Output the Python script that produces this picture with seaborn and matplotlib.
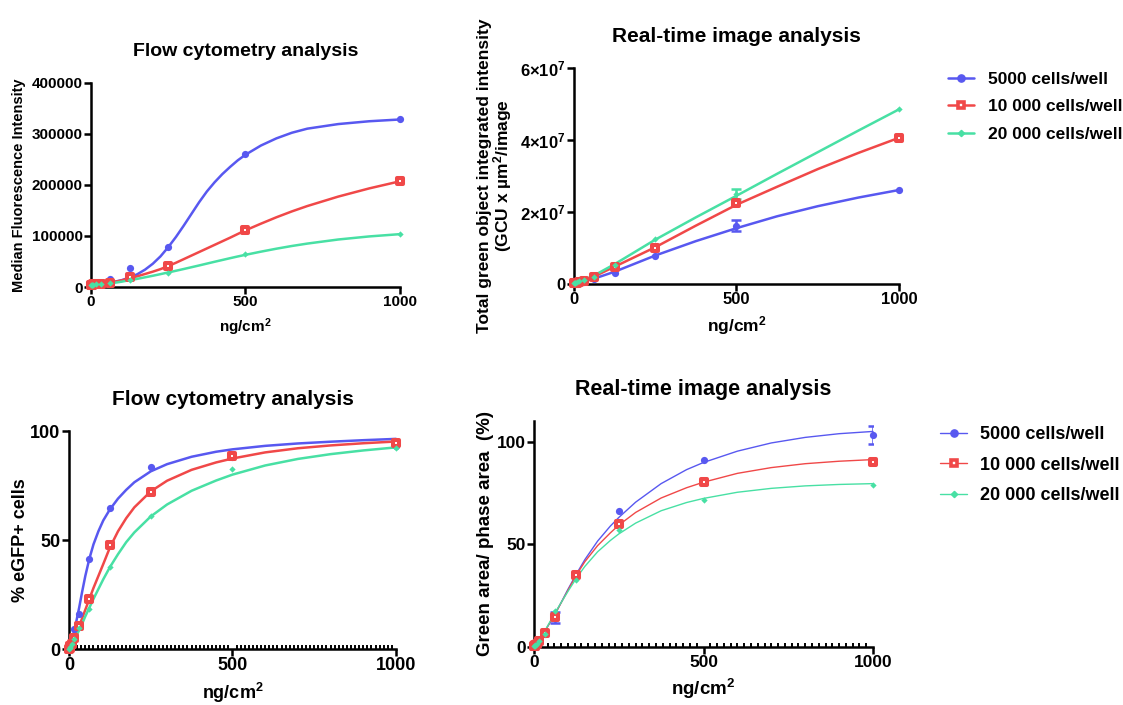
import matplotlib
matplotlib.use("Agg")
import matplotlib.pyplot as plt
import seaborn as sns
import pandas as pd
from matplotlib.lines import Line2D
from matplotlib.ticker import MultipleLocator

# ---- data ----
groups = ["5000 cells/well", "10 000 cells/well", "20 000 cells/well"]
doses = [0, 1.95, 3.9, 7.8, 15.6, 31.25, 62.5, 125, 250, 500, 1000]

# flow cytometry, median fluorescence intensity
mfi_5000 = [4000, 4100, 4300, 4600, 5000, 6000, 15500, 38000, 79000, 260000, 328000]
mfi_10000 = [4500, 4600, 4800, 5000, 5500, 6500, 7500, 19500, 41000, 111000, 208000]
mfi_20000 = [4000, 4100, 4200, 4500, 5000, 5800, 8000, 14000, 27500, 64000, 103500]
mfi_fit_x = [0, 31.25, 62.5, 100, 125, 150, 175, 200, 225, 250, 275, 300, 325, 350, 375, 400,
             425, 450, 475, 500, 550, 600, 650, 700, 800, 900, 1000]
mfi_fit_5000 = [4000, 5500, 8500, 13500, 18500, 25000, 34000, 45500, 60000, 78000, 98000, 120000,
                143000, 166000, 187000, 205000, 221000, 235000, 248000, 259000, 277000, 291000,
                302000, 310000, 319000, 324500, 328000]
mfi_fit_10000 = [4500, 5500, 8000, 13000, 17000, 21000, 25500, 30000, 35000, 41000, 47500, 54500,
                 61500, 68500, 75500, 82500, 89500, 96500, 103800, 111000, 124000, 136500, 148000,
                 158500, 177000, 193000, 207000]
mfi_fit_20000 = [4000, 5000, 7000, 10500, 13500, 16000, 19000, 22000, 25200, 28500, 31800, 35200,
                 38700, 42200, 45800, 49400, 52900, 56400, 59800, 63000, 69200, 75000, 80300,
                 85000, 93000, 99000, 103500]

# real-time image, total green integrated intensity
tgi_5000 = [0.1e6, 0.2e6, 0.3e6, 0.35e6, 0.45e6, 0.6e6, 1.3e6, 3.0e6, 7.9e6, 16.2e6, 26.1e6]
tgi_10000 = [0.2e6, 0.25e6, 0.3e6, 0.4e6, 0.6e6, 0.9e6, 1.9e6, 4.8e6, 10.1e6, 22.4e6, 40.6e6]
tgi_20000 = [0.2e6, 0.3e6, 0.35e6, 0.5e6, 0.7e6, 1.0e6, 2.0e6, 5.3e6, 12.5e6, 25.0e6, 48.5e6]
tgi_err_5000 = [0, 0, 0, 0, 0, 0, 0, 0, 0, 1.5e6, 0]
tgi_err_20000 = [0, 0, 0, 0, 0, 0, 0, 0, 0, 1.5e6, 0]
tgi_fit_x = [0, 31.25, 62.5, 125, 250, 375, 500, 625, 750, 875, 1000]
tgi_fit_5000 = [0.2e6, 0.8e6, 1.5e6, 3.4e6, 7.9e6, 11.9e6, 15.5e6, 18.8e6, 21.6e6, 24.0e6, 26.1e6]
tgi_fit_10000 = [0.2e6, 1.0e6, 2.1e6, 4.8e6, 10.2e6, 16.2e6, 22.0e6, 27.0e6, 31.9e6, 36.4e6, 40.6e6]
tgi_fit_20000 = [0.2e6, 1.1e6, 2.4e6, 5.5e6, 12.3e6, 18.5e6, 24.5e6, 30.6e6, 36.6e6, 42.6e6, 48.5e6]

# flow cytometry, % eGFP+ cells
pct_5000 = [0.3, 1.0, 2.5, 5.0, 9.3, 16.2, 41.5, 64.8, 83.6, 88.2, 93.1]
pct_10000 = [0.1, 0.5, 1.2, 2.5, 5.2, 10.4, 22.8, 47.6, 72.1, 88.5, 94.6]
pct_20000 = [0.1, 0.4, 1.0, 2.2, 4.5, 9.5, 18.2, 37.7, 61.0, 82.8, 92.3]
pct_fit_x = [0, 7.8, 15.6, 23, 31.25, 40, 50, 62.5, 75, 90, 105, 125, 150, 175, 200, 250, 300,
             375, 450, 500, 600, 700, 800, 900, 1000]
pct_fit_5000 = [0, 3, 8, 13, 19, 26, 33.5, 41.5, 48, 54, 59, 64, 69, 73, 76.5, 81.5, 84.8, 88.2,
                90.5, 91.6, 93.2, 94.3, 95.1, 95.8, 96.4]
pct_fit_10000 = [0, 1.5, 4.5, 7.5, 10.5, 14, 18, 23, 28, 33.5, 39, 46.5, 54, 60, 65, 72.3, 77.2,
                 82.2, 85.6, 87.4, 90.2, 92.1, 93.4, 94.4, 95.2]
pct_fit_20000 = [0, 1.2, 3.5, 6, 8.8, 11.5, 15, 19, 23, 27.5, 32, 37.5, 43.5, 49, 53.5, 60.8, 66.3,
                 72.6, 77.3, 80, 84.2, 87.2, 89.4, 91.1, 92.5]

# real-time image, green area / phase area
area_5000 = [0.3, 0.6, 1.0, 1.6, 2.9, 6.2, 14.3, 35.4, 66.2, 91.1, 103.1]
area_10000 = [0.3, 0.5, 0.9, 1.5, 2.9, 6.7, 14.6, 35.1, 59.7, 80.2, 90.1]
area_20000 = [0.3, 0.5, 0.9, 1.6, 3.0, 6.5, 17.6, 32.8, 56.9, 71.7, 79.0]
area_err_5000 = [0, 0, 0, 0, 0, 0, 2.5, 0, 0, 0, 4.5]
area_fit_x = [0, 15.6, 31.25, 62.5, 100, 125, 150, 187.5, 225, 250, 300, 375, 450, 500, 600, 700,
              800, 900, 1000]
area_fit_5000 = [0, 3.5, 7.5, 16, 28, 35.5, 42.5, 51.5, 58.8, 63, 70.5, 79.5, 86.3, 89.8, 95.3,
                 99.3, 102, 103.8, 104.9]
area_fit_10000 = [0, 3.5, 7.5, 16.2, 27.5, 35, 41.5, 49.3, 55.5, 59.3, 65.5, 72.5, 77.5, 80.2,
                  84.5, 87.3, 89.2, 90.4, 91.2]
area_fit_20000 = [0, 3.5, 7.6, 16.8, 27, 33.5, 39.2, 46.3, 51.8, 55, 60.3, 66.3, 70.3, 72.3, 75.3,
                  77.2, 78.4, 79.1, 79.5]

colors = ["#5858F0", "#F04848", "#48E0A4"]

sns.set_theme(style="ticks")
plt.rcParams["font.family"] = ["Liberation Sans", "DejaVu Sans"]
plt.rcParams["font.weight"] = "bold"
plt.rcParams["axes.labelweight"] = "bold"
plt.rcParams["axes.titleweight"] = "bold"
plt.rcParams["text.color"] = "black"
plt.rcParams["axes.labelcolor"] = "black"
plt.rcParams["mathtext.fontset"] = "custom"
plt.rcParams["mathtext.rm"] = "Liberation Sans:bold"
plt.rcParams["mathtext.default"] = "rm"

MS = (5.2, 4.3, 3.2)  # circle, square, diamond


def long_points(values, errs=None):
    rows = []
    for g, vals, e in zip(groups, values, errs or [None] * 3):
        for i, (d, v) in enumerate(zip(doses, vals)):
            rows.append({"dose": d, "value": v, "err": e[i] if e else 0, "group": g})
    return pd.DataFrame(rows)


def long_curves(x, curves):
    rows = []
    for g, ys in zip(groups, curves):
        for xi, yi in zip(x, ys):
            rows.append({"x": xi, "y": yi, "group": g})
    return pd.DataFrame(rows)


def draw_panel(ax, pts, fit, lw):
    sns.lineplot(data=fit, x="x", y="y", hue="group", palette=colors, hue_order=groups,
                 estimator=None, sort=False, lw=lw, legend=False, ax=ax, clip_on=False)
    for g, c in zip(groups, colors):
        sub = pts[pts["group"] == g]
        eb = sub[sub["err"] > 0]
        if len(eb):
            ax.errorbar(eb["dose"], eb["value"], yerr=eb["err"], fmt="none", ecolor=c,
                        elinewidth=1.8, capsize=3.5, capthick=1.8, zorder=3)
        if g == groups[0]:
            kw = dict(marker="o", s=MS[0] ** 2, color=c, edgecolor=c, linewidth=0)
        elif g == groups[1]:
            kw = dict(marker="s", s=MS[1] ** 2, color="white", edgecolor=c, linewidth=2.9)
        else:
            kw = dict(marker="D", s=MS[2] ** 2, color=c, edgecolor=c, linewidth=0)
        sns.scatterplot(data=sub, x="dose", y="value", ax=ax, legend=False, zorder=4,
                        clip_on=False, **kw)


def style_axes(ax, title, ylabel, ylim, yticks, yticklabels, fs, minor=None, ypad=4):
    # fs = (title, xlabel, ylabel, ticks)
    ax.set_xlim(0, 1000)
    ax.set_ylim(*ylim)
    ax.set_xticks([0, 500, 1000])
    ax.set_xticklabels(["0", "500", "1000"])
    ax.set_yticks(yticks)
    ax.set_yticklabels(yticklabels)
    ax.set_title(title, fontsize=fs[0], pad=19, color="black")
    ax.set_xlabel("ng/cm$^{2}$", fontsize=fs[1], labelpad=5)
    ax.set_ylabel(ylabel, fontsize=fs[2], labelpad=ypad)
    sns.despine(ax=ax)
    for s in ["left", "bottom"]:
        ax.spines[s].set_linewidth(1.8)
        ax.spines[s].set_color("black")
    ax.tick_params(axis="both", which="major", length=5, width=1.8, labelsize=fs[3],
                   colors="black", pad=1)
    if minor:
        ax.xaxis.set_minor_locator(MultipleLocator(minor))
        ax.tick_params(axis="x", which="minor", direction="in", length=3, width=1.4,
                       bottom=True, top=False, colors="black")
    ax.set_facecolor("none")


def legend_handles(lw):
    return [
        Line2D([], [], color=colors[0], lw=lw, marker="o", ms=MS[0], mec=colors[0]),
        Line2D([], [], color=colors[1], lw=lw, marker="s", ms=MS[1], mfc="white",
               mec=colors[1], mew=2.6),
        Line2D([], [], color=colors[2], lw=lw, marker="D", ms=MS[2], mec=colors[2]),
    ]


fig = plt.figure(figsize=(11.23, 7.05), dpi=100)

# top-left: MFI
ax1 = fig.add_axes([0.0810, 0.5929, 0.2752, 0.2898])
draw_panel(ax1, long_points([mfi_5000, mfi_10000, mfi_20000]),
           long_curves(mfi_fit_x, [mfi_fit_5000, mfi_fit_10000, mfi_fit_20000]), lw=1.8)
mfi_ticks = [0, 100000, 200000, 300000, 400000]
style_axes(ax1, "Flow cytometry analysis", "Median Fluorescence Intensity", (0, 400000),
           mfi_ticks, [str(t) for t in mfi_ticks], fs=(14, 11, 10.5, 11))

# top-right: total green integrated intensity
ax2 = fig.add_axes([0.5111, 0.5972, 0.2894, 0.3064])
draw_panel(ax2, long_points([tgi_5000, tgi_10000, tgi_20000], [tgi_err_5000, None, tgi_err_20000]),
           long_curves(tgi_fit_x, [tgi_fit_5000, tgi_fit_10000, tgi_fit_20000]), lw=1.8)
tgi_ticks = [0, 2e7, 4e7, 6e7]
style_axes(ax2, "Real-time image analysis",
           "Total green object integrated intensity\n(GCU x µm$^{2}$/image", (0, 6e7),
           tgi_ticks, ["0", r"$2{\times}10^{7}$", r"$4{\times}10^{7}$", r"$6{\times}10^{7}$"],
           fs=(15, 12.5, 12.5, 12))
ax2.yaxis.label.set_linespacing(1.0)

# bottom-left: % eGFP+
ax3 = fig.add_axes([0.0614, 0.0794, 0.2912, 0.3092])
draw_panel(ax3, long_points([pct_5000, pct_10000, pct_20000]),
           long_curves(pct_fit_x, [pct_fit_5000, pct_fit_10000, pct_fit_20000]), lw=1.8)
style_axes(ax3, "Flow cytometry analysis", "% eGFP+ cells", (0, 100),
           [0, 50, 100], ["0", "50", "100"], fs=(15, 13, 13, 13), minor=12.5, ypad=1)

# bottom-right: green area / phase area
ax4 = fig.add_axes([0.4755, 0.0823, 0.3019, 0.3206])
draw_panel(ax4, long_points([area_5000, area_10000, area_20000], [area_err_5000, None, None]),
           long_curves(area_fit_x, [area_fit_5000, area_fit_10000, area_fit_20000]), lw=1.0)
style_axes(ax4, "Real-time image analysis", "Green area/ phase area  (%)", (0, 110),
           [0, 50, 100], ["0", "50", "100"], fs=(15.5, 13.5, 13.5, 12.5), minor=20, ypad=2)

fig.legend(handles=legend_handles(1.8), labels=groups, loc="upper left",
           bbox_to_anchor=(948 / 1123, 1 - 72 / 705), frameon=False, fontsize=12.5,
           handlelength=1.5, handletextpad=0.8, labelspacing=0.7, borderpad=0, borderaxespad=0)
fig.legend(handles=legend_handles(1.0), labels=groups, loc="upper left",
           bbox_to_anchor=(940 / 1123, 1 - 426 / 705), frameon=False, fontsize=13,
           handlelength=1.5, handletextpad=0.7, labelspacing=0.75, borderpad=0, borderaxespad=0)

fig.savefig("out.png", dpi=100, facecolor="white")
